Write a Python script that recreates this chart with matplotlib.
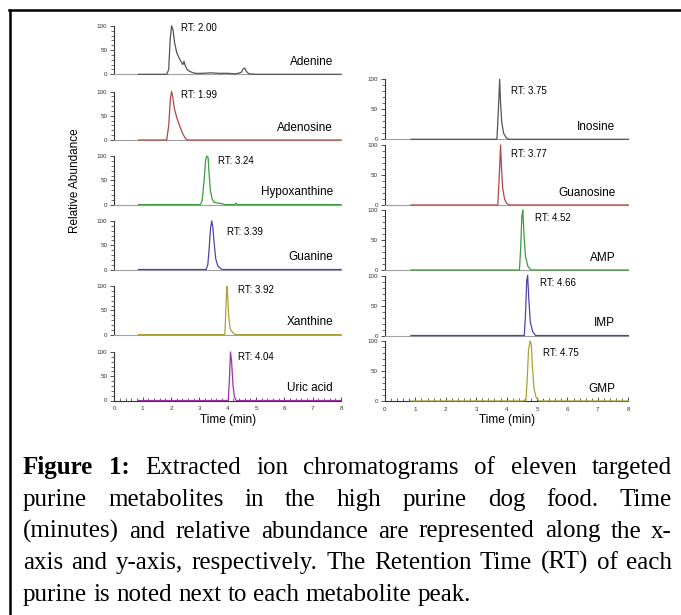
import matplotlib
matplotlib.use("Agg")
import matplotlib.pyplot as plt
from matplotlib.lines import Line2D
from matplotlib.ticker import MultipleLocator

# ---- chromatogram data (time in min, relative abundance in %) ----
adenine_t = [0.85, 1.85, 1.92, 1.97, 2.02, 2.07, 2.13, 2.20, 2.30, 2.38, 2.42, 2.46, 2.50, 2.58, 2.70,
             2.85, 3.10, 3.40, 3.70, 4.00, 4.30, 4.48, 4.55, 4.60, 4.66, 4.75, 5.00, 8.00]
adenine_i = [0, 0, 10, 70, 100, 92, 65, 45, 32, 24, 20, 27, 18, 9, 5,
             2, 2, 3, 2, 2, 1, 4, 11, 13, 6, 1, 0, 0]

adenosine_t = [0.85, 1.85, 1.92, 1.98, 2.02, 2.06, 2.12, 2.20, 2.30, 2.40, 2.50, 2.58, 8.00]
adenosine_i = [0, 0, 30, 85, 100, 90, 65, 47, 30, 15, 4, 0, 0]

hypox_t = [0.85, 3.04, 3.10, 3.17, 3.22, 3.26, 3.31, 3.35, 3.39, 3.45, 3.52, 3.65, 3.80, 3.90,
           4.25, 4.29, 4.33, 8.00]
hypox_i = [0, 0, 8, 50, 90, 100, 97, 60, 30, 12, 5, 3, 2, 0,
           0, 3, 0, 0]

guanine_t = [0.85, 3.24, 3.30, 3.35, 3.40, 3.44, 3.48, 3.53, 3.58, 3.65, 3.75, 3.82, 8.00]
guanine_i = [0, 0, 10, 45, 88, 100, 85, 50, 22, 8, 2, 0, 0]

xanthine_t = [0.85, 3.90, 3.93, 3.97, 4.00, 4.04, 4.09, 4.18, 4.27, 8.00]
xanthine_i = [0, 0, 40, 100, 80, 35, 12, 4, 0, 0]

uric_t = [0.85, 4.02, 4.06, 4.10, 4.14, 4.19, 4.24, 4.30, 8.00]
uric_i = [0, 0, 40, 100, 80, 30, 8, 0, 0]

inosine_t = [0.85, 3.68, 3.72, 3.77, 3.80, 3.84, 3.90, 3.98, 4.06, 8.00]
inosine_i = [0, 0, 40, 100, 60, 28, 10, 3, 0, 0]

guanosine_t = [0.85, 3.71, 3.75, 3.80, 3.83, 3.87, 3.93, 4.00, 4.08, 8.00]
guanosine_i = [0, 0, 40, 100, 62, 28, 10, 3, 0, 0]

amp_t = [0.85, 4.42, 4.46, 4.50, 4.53, 4.57, 4.62, 4.70, 4.80, 8.00]
amp_i = [0, 0, 35, 90, 100, 60, 22, 6, 0, 0]

imp_t = [0.85, 4.58, 4.62, 4.66, 4.69, 4.73, 4.78, 4.86, 4.95, 8.00]
imp_i = [0, 0, 35, 92, 100, 60, 22, 6, 0, 0]

gmp_t = [0.85, 4.55, 4.60, 4.63, 4.67, 4.72, 4.77, 4.81, 4.85, 4.90, 4.97, 5.07, 8.00]
gmp_i = [0, 0, 2, 0, 30, 85, 100, 95, 55, 20, 6, 0, 0]

left_names = ["Adenine", "Adenosine", "Hypoxanthine", "Guanine", "Xanthine", "Uric acid"]
left_rt = ["2.00", "1.99", "3.24", "3.39", "3.92", "4.04"]
left_data = [(adenine_t, adenine_i), (adenosine_t, adenosine_i), (hypox_t, hypox_i),
             (guanine_t, guanine_i), (xanthine_t, xanthine_i), (uric_t, uric_i)]

right_names = ["Inosine", "Guanosine", "AMP", "IMP", "GMP"]
right_rt = ["3.75", "3.77", "4.52", "4.66", "4.75"]
right_data = [(inosine_t, inosine_i), (guanosine_t, guanosine_i), (amp_t, amp_i),
              (imp_t, imp_i), (gmp_t, gmp_i)]

caption_lines = [
    "Figure 1: Extracted ion chromatograms of eleven targeted",
    "purine metabolites in the high purine dog food. Time",
    "(minutes) and relative abundance are represented along the x-",
    "axis and y-axis, respectively. The Retention Time (RT) of each",
    "purine is noted next to each metabolite peak.",
]

# ---- layout (pixels) ----
W, H = 681, 615
colors_left = ["#555555", "#b04848", "#3e9c3e", "#4848aa", "#a8a438", "#a032a8"]
colors_right = ["#555555", "#b04848", "#3e9c3e", "#4848aa", "#a8a438"]

left_x = (114.3, 341.0)
left_zero = [74.3, 140.0, 204.6, 269.5, 334.6, 400.5]
left_h = 48.5
left_rt_pos = [(2.35, 96), (2.35, 92), (3.65, 90), (3.96, 78), (4.35, 91), (4.35, 90)]

right_x = (385.0, 628.3)
right_zero = [139.3, 205.0, 270.0, 335.5, 401.0]
right_h = 60.0
right_rt_pos = [(4.13, 81), (4.13, 85), (4.93, 87), (5.09, 87), (5.19, 80)]

plt.rcParams["font.family"] = ["Liberation Sans", "DejaVu Sans"]

fig = plt.figure(figsize=(W / 100, H / 100), dpi=100)


def make_panel(xr, zero, h, t, y, color, name, rt, rt_pos, bottom, name_x, name_y):
    ax = fig.add_axes([xr[0] / W, 1 - zero / H, (xr[1] - xr[0]) / W, h / H])
    ax.set_xlim(0, 8)
    ax.set_ylim(0, 100)
    ax.plot(t, y, color=color, lw=0.9, clip_on=False, zorder=3)
    for s in ["top", "right"]:
        ax.spines[s].set_visible(False)
    ax.spines["left"].set_color("#333333")
    ax.spines["left"].set_linewidth(0.8)
    ax.set_yticks([0, 50, 100])
    ax.yaxis.set_minor_locator(MultipleLocator(10))
    ax.tick_params(axis="y", which="major", length=3, width=0.6, labelsize=4.5, pad=2, colors="#333333")
    ax.tick_params(axis="y", which="minor", length=2, width=0.5, colors="#333333")
    if bottom:
        ax.spines["bottom"].set_color("#333333")
        ax.spines["bottom"].set_linewidth(0.8)
        ax.set_xticks(range(9))
        ax.xaxis.set_minor_locator(MultipleLocator(0.2))
        ax.tick_params(axis="x", which="major", direction="in", length=3, width=0.6,
                       labelsize=4.5, pad=4, colors="#333333")
        ax.tick_params(axis="x", which="minor", direction="in", length=2, width=0.5, colors="#333333")
        ax.set_xlabel("Time (min)", fontsize=8.5, labelpad=2)
    else:
        ax.spines["bottom"].set_color("#a0a0a0")
        ax.spines["bottom"].set_linewidth(0.8)
        ax.set_xticks([])
    ax.patch.set_alpha(0)
    ax.text(rt_pos[0], rt_pos[1], "RT: " + rt, fontsize=7, va="center", ha="left")
    ax.text(name_x, name_y, name, fontsize=8.5, va="center", ha="right")
    return ax


for k in range(6):
    t, y = left_data[k]
    make_panel(left_x, left_zero[k], left_h, t, y, colors_left[k], left_names[k], left_rt[k],
               left_rt_pos[k], k == 5, 7.72, 25)

for k in range(5):
    t, y = right_data[k]
    make_panel(right_x, right_zero[k], right_h, t, y, colors_right[k], right_names[k], right_rt[k],
               right_rt_pos[k], k == 4, 7.57, 20)

fig.text(75 / W, 1 - 181 / H, "Relative Abundance", rotation=90, fontsize=8.5,
         ha="center", va="center")

# frame lines
fig.add_artist(Line2D([9 / W, 1.0], [1 - 10 / H, 1 - 10 / H], color="black", lw=1.8))
fig.add_artist(Line2D([10 / W, 10 / W], [1 - 10 / H, 0.0], color="black", lw=1.8))

# ---- justified caption ----
renderer = fig.canvas.get_renderer()
serif = ["Liberation Serif", "DejaVu Serif"]
cap_left, cap_right = 23, 672
line_base = [474, 506, 537.5, 569, 601]

# pick a font size so the fullest line nearly fills the width
probe = fig.text(0, 0, caption_lines[3], family=serif, fontsize=10)
cap_size = min(18.0, 10 * (cap_right - cap_left) * 0.985 / probe.get_window_extent(renderer).width)
probe.remove()

probe = fig.text(0, 0, "a a", family=serif, fontsize=cap_size)
probe2 = fig.text(0, 0, "aa", family=serif, fontsize=cap_size)
space = probe.get_window_extent(renderer).width - probe2.get_window_extent(renderer).width
probe.remove()
probe2.remove()

for li, line in enumerate(caption_lines):
    words = line.split(" ")
    texts = []
    for wi, w in enumerate(words):
        weight = "bold" if (li == 0 and wi < 2) else "normal"
        txt = fig.text(0, 1 - line_base[li] / H, w, ha="left", va="baseline",
                       fontweight=weight, family=serif, fontsize=cap_size)
        texts.append(txt)
    widths = [tx.get_window_extent(renderer).width for tx in texts]
    if li < len(caption_lines) - 1:
        gap = (cap_right - cap_left - sum(widths)) / (len(words) - 1)
    else:
        gap = space
    x = cap_left
    for tx, wd in zip(texts, widths):
        tx.set_x(x / W)
        x += wd + gap

fig.savefig("out.png", dpi=100)
